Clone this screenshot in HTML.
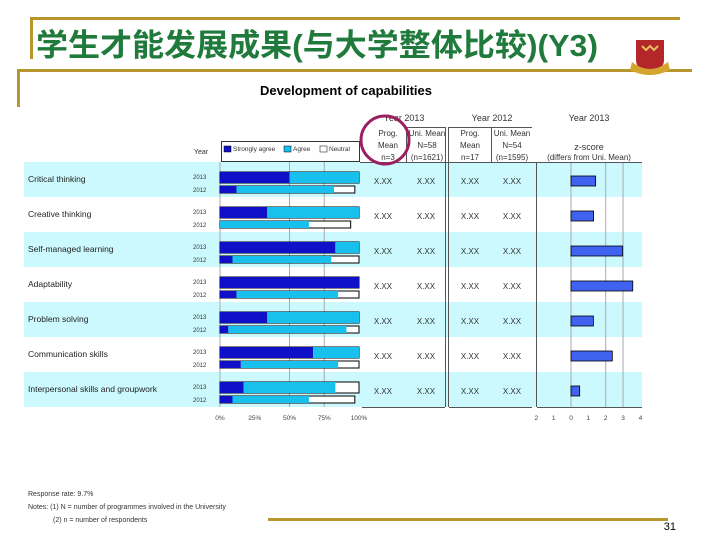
<!DOCTYPE html>
<html><head><meta charset="utf-8"><style>
body{margin:0;background:#fff;}
svg{display:block;font-family:"Liberation Sans",Arial,sans-serif;}
</style></head><body>
<svg id="chart" width="720" height="540" viewBox="0 0 720 540">
<rect width="720" height="540" fill="#fff"/>
<g fill="#b8962e">
<rect x="30" y="17" width="650" height="3"/><rect x="30" y="17" width="3" height="42"/>
<rect x="17" y="69" width="675" height="3"/><rect x="17" y="69" width="3" height="38"/>
<rect x="268" y="518" width="400" height="3"/>
</g>
<text x="36" y="56" font-size="31" font-weight="bold" fill="#1f7a3c" textLength="562" lengthAdjust="spacingAndGlyphs" font-family="'Liberation Sans','Noto Sans CJK SC',sans-serif">学生才能发展成果(与大学整体比较)(Y3)</text>
<g>
<path d="M636 40 h28 v20 q0 10 -14 14 q-14 -4 -14 -14z" fill="#b3262a"/>
<path d="M632 62 q18 14 36 0 l2 8 q-20 10 -40 0z" fill="#d4a52e"/>
<path d="M642 46 l4 4 l4 -4 l4 4 l4 -4" stroke="#e6c05a" stroke-width="2" fill="none"/>
</g>
<text x="346" y="95" font-size="13" font-weight="bold" text-anchor="middle">Development of capabilities</text>
<g id="bands"></g>
<g id="header" font-size="9" fill="#333" text-anchor="middle">
<text x="404" y="121">Year 2013</text>
<text x="492" y="121">Year 2012</text>
<text x="589" y="121">Year 2013</text>
<text x="388" y="136" font-size="8">Prog.</text><text x="388" y="148" font-size="8">Mean</text><text x="388" y="160" font-size="8">n=3</text>
<text x="427" y="136" font-size="8">Uni. Mean</text><text x="427" y="148" font-size="8">N=58</text><text x="427" y="160" font-size="8">(n=1621)</text>
<text x="470" y="136" font-size="8">Prog.</text><text x="470" y="148" font-size="8">Mean</text><text x="470" y="160" font-size="8">n=17</text>
<text x="512" y="136" font-size="8">Uni. Mean</text><text x="512" y="148" font-size="8">N=54</text><text x="512" y="160" font-size="8">(n=1595)</text>
<text x="589" y="150" font-size="9">z-score</text>
<text x="589" y="160" font-size="8">(differs from Uni. Mean)</text>
<text x="201" y="154" font-size="7">Year</text>
</g>
<g stroke="#555" stroke-width="1" fill="none">
<path d="M406.5 127 V162 M406 127.5 H445 M449 127.5 H532 M491.5 127 V162 M445.5 127 V407 M448.5 127 V407 M360 162.5 H642 M536.5 162 V407"/>
<path d="M362 407.5 H445 M449 407.5 H532 M537 407.5 H642"/>
</g>
<g font-size="6.5" fill="#333">
<rect x="221.5" y="141.5" width="138" height="20" fill="none" stroke="#333"/>
<rect x="224" y="146" width="7" height="6" fill="#1010c8" stroke="#000" stroke-width="0.5"/><text x="233" y="151">Strongly agree</text>
<rect x="284" y="146" width="7" height="6" fill="#18c0ee" stroke="#000" stroke-width="0.5"/><text x="293" y="151">Agree</text>
<rect x="320" y="146" width="7" height="6" fill="#fff" stroke="#000" stroke-width="0.5"/><text x="329" y="151">Neutral</text>
</g>
<g id="rows"></g>
<g id="axes" font-size="6.5" fill="#444" text-anchor="middle"></g>
<circle cx="385" cy="140" r="24" fill="none" stroke="#9c1f60" stroke-width="3"/>
<g font-size="7" fill="#333">
<text x="28" y="496">Response rate: 9.7%</text>
<text x="28" y="509">Notes: (1) N = number of programmes involved in the University</text>
<text x="53" y="522">(2) n = number of respondents</text>
</g>
<text x="676" y="530" font-size="11" text-anchor="end">31</text>
</svg>
<script>
const categories=["Critical thinking","Creative thinking","Self-managed learning","Adaptability","Problem solving","Communication skills","Interpersonal skills and groupwork"];
const sa2013=[50,34,83,100,34,67,17];
const ag2013=[50,66,17,0,66,33,66];
const ne2013=[0,0,0,0,0,0,17];
const sa2012=[12,0,9,12,6,15,9];
const ag2012=[70,64,71,73,85,70,55];
const ne2012=[15,30,20,15,9,15,33];
const zscores=[1.42,1.3,2.98,3.56,1.29,2.38,0.5];
const pctTicks=["0%","25%","50%","75%","100%"];
const zTicks=["2","1","0","1","2","3","4"];
const zTickVals=[-2,-1,0,1,2,3,4];
const NS="http://www.w3.org/2000/svg";
const px=v=>220+v*1.39;
const zx=v=>571+v*17.35;
const rowTop=i=>162+i*35;
function mk(tag,attrs,parent){const e=document.createElementNS(NS,tag);for(const k in attrs)e.setAttribute(k,attrs[k]);parent.appendChild(e);return e;}
const bands=document.getElementById('bands'),rows=document.getElementById('rows'),axes=document.getElementById('axes');
categories.forEach((c,i)=>{
  const t=rowTop(i);
  if(i%2===0){const b=mk('rect',{x:24,y:t,width:618,height:35,fill:'#ccf9fd'},bands);
    
    }
});
[50,75].forEach(v=>{const l=mk('line',{x1:px(v),x2:px(v),y1:162,y2:407,stroke:'#aaa','stroke-width':1},bands);
  
  });
mk('line',{x1:px(0),x2:px(0),y1:162,y2:407,stroke:'#aaa'},bands);
[0,2,3].forEach(v=>{const l=mk('line',{x1:zx(v),x2:zx(v),y1:162,y2:407,stroke:'#aaa'},bands);
  
  });
categories.forEach((c,i)=>{
  const t=rowTop(i);
  const lab=mk('text',{x:28,y:t+20,'font-size':8.5,fill:'#222'},rows);lab.textContent=c;
  
  
  const y1=mk('text',{x:193,y:t+17,'font-size':6,fill:'#333'},rows);y1.textContent='2013';
  
  
  const y2=mk('text',{x:193,y:t+30,'font-size':6,fill:'#333'},rows);y2.textContent='2012';
  
  
  [[sa2013,ag2013,ne2013,t+10,11],[sa2012,ag2012,ne2012,t+24,7]].forEach(([s,a,n,y,h],k)=>{
    const tot=s[i]+a[i]+n[i];
    mk('rect',{x:px(0),y:y,width:px(tot)-px(0),height:h,fill:'#fff',stroke:'#000','stroke-width':1},rows);
    const r1=mk('rect',{x:px(0),y:y,width:px(s[i])-px(0),height:h,fill:'#1010c8'},rows);
    
    
    const r2=mk('rect',{x:px(s[i]),y:y,width:px(s[i]+a[i])-px(s[i]),height:h,fill:'#18c0ee'},rows);
    
    
  });
  [383,426,470,512].forEach(x=>{const v=mk('text',{x:x,y:t+22,'font-size':8,'text-anchor':'middle',fill:'#333'},rows);v.textContent='X.XX';
    
    });
  const zb=mk('rect',{x:zx(0),y:t+14,width:zx(zscores[i])-zx(0),height:10,fill:'#3f63f0',stroke:'#000','stroke-width':0.8},rows);
  
  
});
pctTicks.forEach((s,k)=>{const e=mk('text',{x:px(k*25),y:420},axes);e.textContent=s;
  
  });
zTicks.forEach((s,k)=>{const e=mk('text',{x:zx(zTickVals[k]),y:420},axes);e.textContent=s;
  
  });
</script>
</body></html>
